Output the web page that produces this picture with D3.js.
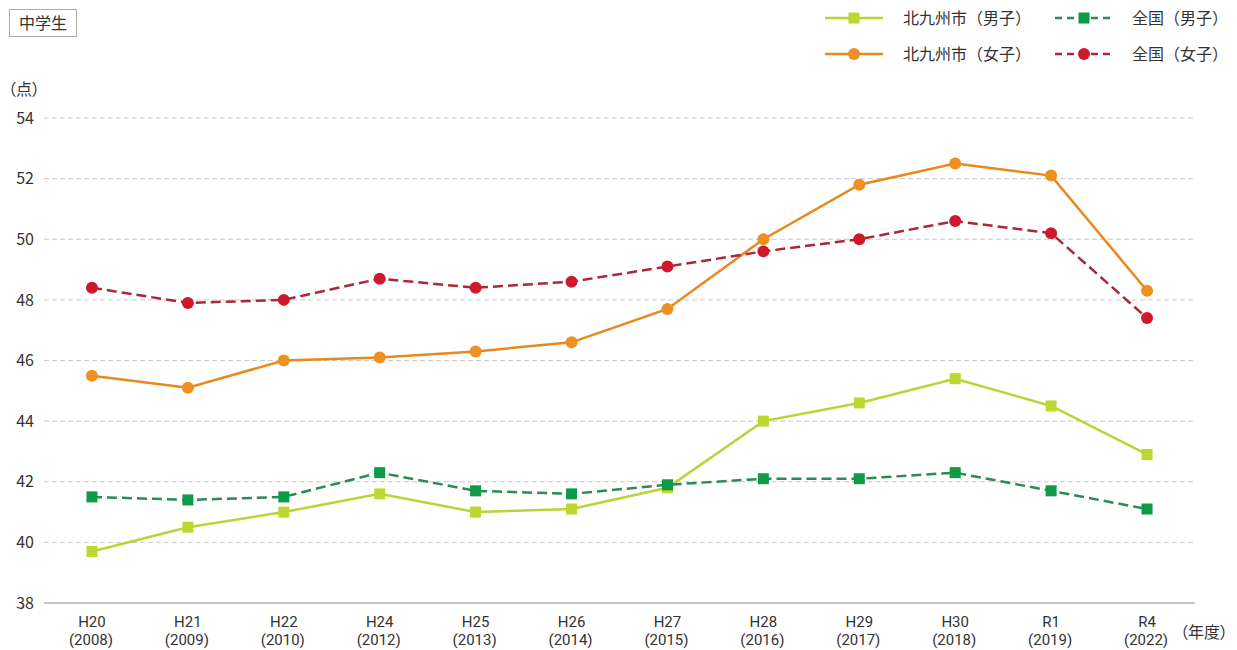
<!DOCTYPE html>
<html>
<head>
<meta charset="utf-8">
<script src="https://cdn.jsdelivr.net/npm/d3@7"></script>
<style>
  html, body { margin: 0; padding: 0; background: #fff; }
  svg { display: block; font-family: "Noto Sans CJK JP", "Noto Sans", sans-serif; }
  .palt { font-feature-settings: "palt"; }
</style>
</head>
<body>
<svg id="chart" width="1237" height="650"></svg>
<script>
// Fiscal-year categories (two-line labels)
const eraLabels = ["H20", "H21", "H22", "H24", "H25", "H26", "H27", "H28", "H29", "H30", "R1", "R4"];
const yearLabels = ["2008", "2009", "2010", "2012", "2013", "2014", "2015", "2016", "2017", "2018", "2019", "2022"];

// Scores (points)
const kitaBoys  = [39.7, 40.5, 41.0, 41.6, 41.0, 41.1, 41.8, 44.0, 44.6, 45.4, 44.5, 42.9];
const kitaGirls = [45.5, 45.1, 46.0, 46.1, 46.3, 46.6, 47.7, 50.0, 51.8, 52.5, 52.1, 48.3];
const natBoys   = [41.5, 41.4, 41.5, 42.3, 41.7, 41.6, 41.9, 42.1, 42.1, 42.3, 41.7, 41.1];
const natGirls  = [48.4, 47.9, 48.0, 48.7, 48.4, 48.6, 49.1, 49.6, 50.0, 50.6, 50.2, 47.4];

const yTicks = [38, 40, 42, 44, 46, 48, 50, 52, 54];

const series = [
  { name: "北九州市（男子）", values: kitaBoys,  line: "#b8d435", fill: "#bfd630", dash: null,   shape: "square" },
  { name: "北九州市（女子）", values: kitaGirls, line: "#e8891c", fill: "#ee9022", dash: null,   shape: "circle" },
  { name: "全国（男子）",     values: natBoys,   line: "#2b8a57", fill: "#0f9a48", dash: "10,5", shape: "square" },
  { name: "全国（女子）",     values: natGirls,  line: "#a8283c", fill: "#d0182c", dash: "10,5", shape: "circle" }
];

const svg = d3.select("#chart");
const plotLeft = 44, plotRight = 1195, plotTop = 118, plotBottom = 603;
const textColor = "#333";

const x = d3.scalePoint().domain(eraLabels).range([plotLeft, plotRight]).padding(0.5);
const y = d3.scaleLinear().domain([38, 54]).range([plotBottom, plotTop]);

// Horizontal gridlines
svg.append("g").selectAll("line")
  .data(yTicks.filter(d => d !== 38))
  .join("line")
  .attr("x1", plotLeft).attr("x2", plotRight)
  .attr("y1", d => y(d)).attr("y2", d => y(d))
  .attr("stroke", "#c6c8cc").attr("stroke-width", 1)
  .attr("stroke-dasharray", "5,3");

// Baseline
svg.append("line")
  .attr("x1", plotLeft).attr("x2", plotRight)
  .attr("y1", y(38)).attr("y2", y(38))
  .attr("stroke", "#8a8a8a").attr("stroke-width", 1.2);

// Y axis labels
const yAxis = d3.axisLeft(y).tickValues(yTicks).tickSize(0).tickPadding(0);
const gy = svg.append("g").attr("transform", `translate(${plotLeft - 10},0)`).call(yAxis);
gy.select(".domain").remove();
gy.selectAll("text")
  .attr("font-size", 16).attr("fill", textColor)
  .attr("font-family", "'Noto Sans CJK JP', sans-serif");

svg.append("text").attr("class", "palt").attr("x", 8).attr("y", 95)
  .attr("font-size", 16).attr("fill", textColor).text("（点）");

// X axis labels (two lines)
const gx = svg.append("g").attr("font-family", "Roboto, sans-serif")
  .attr("font-size", 15).attr("fill", textColor).attr("text-anchor", "middle");
eraLabels.forEach((e, i) => {
  gx.append("text").attr("x", x(e)).attr("y", 627).text(e);
  gx.append("text").attr("x", x(e) - 1).attr("y", 645).text("(" + yearLabels[i] + ")");
});
svg.append("text").attr("class", "palt").attr("x", 1180).attr("y", 638)
  .attr("font-size", 16).attr("fill", textColor).text("（年度）");

// Lines and markers
const line = d3.line().x((d, i) => x(eraLabels[i])).y(d => y(d));

function drawMarker(g, shape, cx, cy, fill) {
  if (shape === "square") {
    g.append("rect").attr("x", cx - 5.5).attr("y", cy - 5.5)
      .attr("width", 11).attr("height", 11).attr("fill", fill);
  } else {
    g.append("circle").attr("cx", cx).attr("cy", cy).attr("r", 6).attr("fill", fill);
  }
}

series.forEach(s => {
  svg.append("path").datum(s.values)
    .attr("d", line)
    .attr("fill", "none")
    .attr("stroke", s.line)
    .attr("stroke-width", 2.5)
    .attr("stroke-dasharray", s.dash);
  const g = svg.append("g");
  s.values.forEach((v, i) => drawMarker(g, s.shape, x(eraLabels[i]), y(v), s.fill));
});

// Legend
const legendPos = [
  { lx: 825, ly: 18, tx: 903 },
  { lx: 825, ly: 54, tx: 903 },
  { lx: 1055, ly: 18, tx: 1132 },
  { lx: 1055, ly: 54, tx: 1132 }
];
series.forEach((s, i) => {
  const p = legendPos[i];
  const g = svg.append("g");
  g.append("line").attr("x1", p.lx).attr("x2", p.lx + 58)
    .attr("y1", p.ly).attr("y2", p.ly)
    .attr("stroke", s.line).attr("stroke-width", 2.5)
    .attr("stroke-dasharray", s.dash ? "7,5" : null);
  drawMarker(g, s.shape, p.lx + 29, p.ly, s.fill);
  g.append("text").attr("x", p.tx).attr("y", p.ly + 6)
    .attr("font-size", 16).attr("fill", textColor).text(s.name);
});

// Panel tag
svg.append("rect").attr("x", 9.5).attr("y", 9.5).attr("width", 67).attr("height", 27)
  .attr("fill", "#fff").attr("stroke", "#aaa").attr("stroke-width", 1);
svg.append("text").attr("x", 43).attr("y", 29).attr("text-anchor", "middle")
  .attr("font-size", 16).attr("fill", textColor).text("中学生");
</script>
</body>
</html>
